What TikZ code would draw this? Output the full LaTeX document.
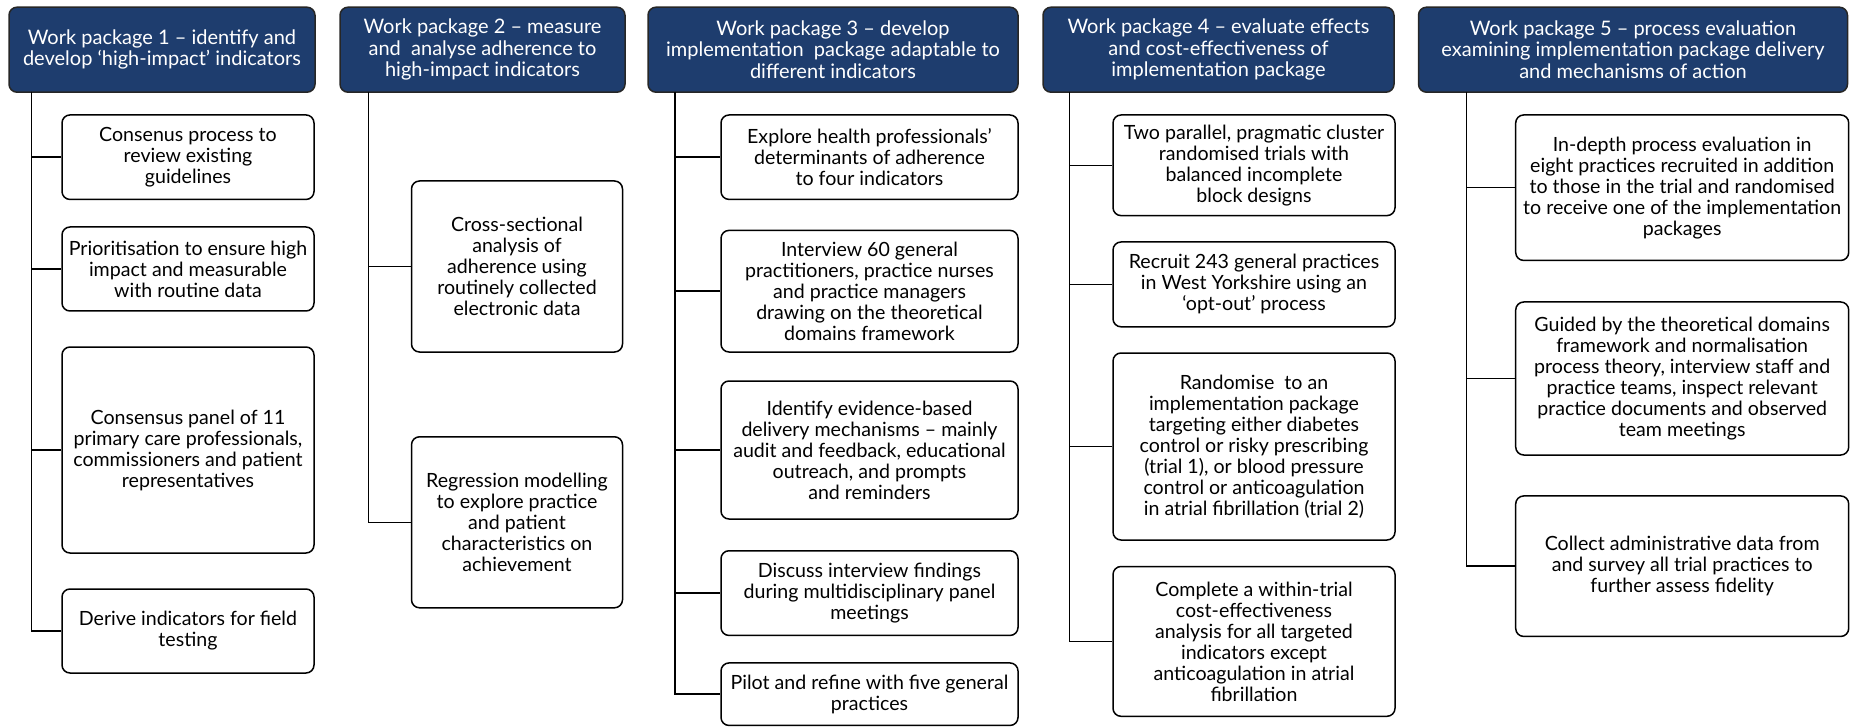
\documentclass[tikz,border=0pt]{standalone}
\usepackage{fontspec}
\setmainfont{Lato}
\usepackage{tikz}
\usetikzlibrary{arrows}
\definecolor{wpblue}{RGB}{30,61,110}

\begin{document}
\begin{tikzpicture}[-,x=1pt,y=1pt,line width=1.5pt,
			head node/.style={rectangle,rounded corners=8pt,fill=wpblue,draw=black!85,
				text=white,font=\fontsize{20}{21.5}\selectfont,align=center,
				minimum height=85pt,inner sep=1pt},
			task node/.style={rectangle,rounded corners=8pt,fill=white,draw,
				font=\fontsize{19.6}{21}\selectfont,align=center,inner sep=1pt},
			col1/.style={task node,minimum width=252pt},
			col2/.style={task node,minimum width=211pt},
			col3/.style={task node,minimum width=297pt},
			col4/.style={task node,minimum width=282pt},
			col5/.style={task node,minimum width=333pt},
			elbow/.style={to path={|- (\tikztotarget)}}]
			
			\useasboundingbox (0,0) rectangle (1850,-727);
			
			\node[head node,minimum width=306pt] (H1) at (162,-49.7) {Work package 1 – identify and\\develop ‘high-impact’ indicators};
			\node[head node,minimum width=285pt] (H2) at (482.5,-49.7) {Work package 2 – measure\\and~ analyse adherence to\\high-impact indicators};
			\node[head node,minimum width=370pt] (H3) at (833,-49.7) {Work package 3 – develop\\implementation~ package adaptable to\\different indicators};
			\node[head node,minimum width=351pt] (H4) at (1218.5,-49.7) {Work package 4 – evaluate effects\\and cost-effectiveness of\\implementation package};
			\node[head node,minimum width=429pt] (H5) at (1633,-49.7) {Work package 5 – process evaluation\\examining implementation package delivery\\and mechanisms of action};
			
			\node[col1,minimum height=84.5pt] (T11) at (188,-157.2) {Consenus process to\\review existing\\guidelines};
			\node[col1,minimum height=84pt] (T12) at (188,-269) {Prioritisation to ensure high\\impact and measurable\\with routine data};
			\node[col1,minimum height=206pt] (T13) at (188,-450) {Consensus panel of 11\\primary care professionals,\\commissioners and patient\\representatives};
			\node[col1,minimum height=84pt] (T14) at (188,-631) {Derive indicators for field\\testing};
			
			\node[col2,minimum height=171pt] (T21) at (517,-266.5) {Cross-sectional\\analysis of\\adherence using\\routinely collected\\electronic data};
			\node[col2,minimum height=171pt] (T22) at (517,-522.3) {Regression modelling\\to explore practice\\and patient\\characteristics on\\achievement};
			
			\node[col3,minimum height=84.4pt] (T31) at (869.5,-157.2) {Explore health professionals’\\determinants of adherence\\to four indicators};
			\node[col3,minimum height=121.6pt] (T32) at (869.5,-291.2) {Interview 60 general\\practitioners, practice nurses\\and practice managers\\drawing on the theoretical\\domains framework};
			\node[col3,minimum height=138pt] (T33) at (869.5,-450) {Identify evidence-based\\delivery mechanisms – mainly\\audit and feedback, educational\\outreach, and prompts\\and reminders};
			\node[col3,minimum height=84.7pt] (T34) at (869.5,-593.1) {Discuss interview findings\\during multidisciplinary panel\\meetings};
			\node[col3,minimum height=62.5pt] (T35) at (869.5,-694.2) {Pilot and refine with five general\\practices};
			
			\node[col4,minimum height=100.6pt] (T41) at (1254,-165.3) {Two parallel, pragmatic cluster\\randomised trials with\\balanced incomplete\\block designs};
			\node[col4,minimum height=84.8pt] (T42) at (1254,-284.4) {Recruit 243 general practices\\in West Yorkshire using an\\‘opt-out’ process};
			\node[col4,minimum height=187pt] (T43) at (1254,-446.5) {Randomise~ to an\\implementation package\\targeting either diabetes\\control or risky prescribing\\(trial 1), or blood pressure\\control or anticoagulation\\in atrial fibrillation (trial 2)};
			\node[col4,minimum height=149.8pt] (T44) at (1254,-641.4) {Complete a within-trial\\cost-effectiveness\\analysis for all targeted\\indicators except\\anticoagulation in atrial\\fibrillation};
			
			\node[col5,minimum height=145.5pt] (T51) at (1682.2,-187.7) {In-depth process evaluation in\\eight practices recruited in addition\\to those in the trial and randomised\\to receive one of the implementation\\packages};
			\node[col5,minimum height=153pt] (T52) at (1682.2,-378.5) {Guided by the theoretical domains\\framework and normalisation\\process theory, interview staff and\\practice teams, inspect relevant\\practice documents and observed\\team meetings};
			\node[col5,minimum height=140.5pt] (T53) at (1682.2,-566.2) {Collect administrative data from\\and survey all trial practices to\\further assess fidelity};
			
			\coordinate (t1) at (31.7,-92);
			\coordinate (t2) at (368.7,-92);
			\coordinate (t3) at (675,-92);
			\coordinate (t4) at (1069.5,-92);
			\coordinate (t5) at (1466.7,-92);
			
			\path[-]
			(t1) edge[elbow] (T11)
			(t1) edge[elbow] (T12)
			(t1) edge[elbow] (T13)
			(t1) edge[elbow] (T14)
			(t2) edge[elbow] (T21)
			(t2) edge[elbow] (T22)
			(t3) edge[elbow] (T31)
			(t3) edge[elbow] (T32)
			(t3) edge[elbow] (T33)
			(t3) edge[elbow] (T34)
			(t3) edge[elbow] (T35)
			(t4) edge[elbow] (T41)
			(t4) edge[elbow] (T42)
			(t4) edge[elbow] (T43)
			(t4) edge[elbow] (T44)
			(t5) edge[elbow] (T51)
			(t5) edge[elbow] (T52)
			(t5) edge[elbow] (T53);
		\end{tikzpicture}
\end{document}
